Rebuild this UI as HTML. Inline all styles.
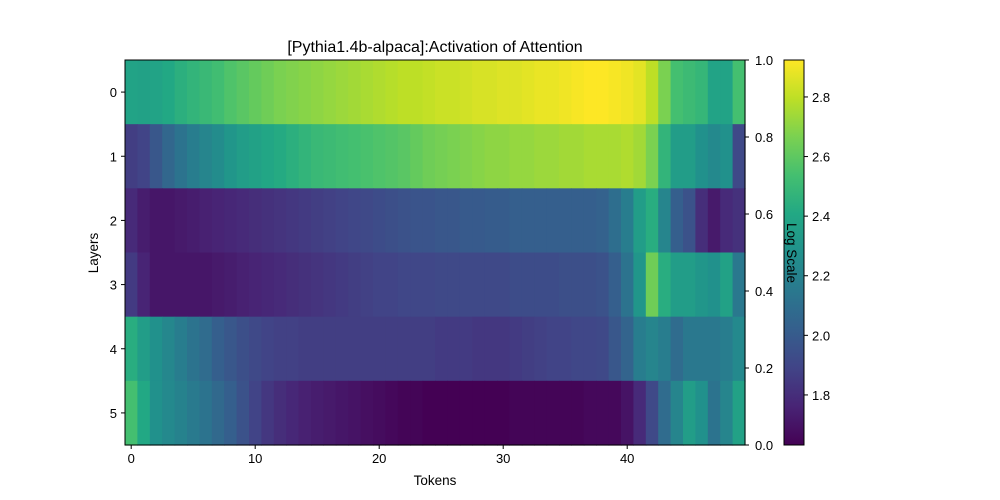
<!DOCTYPE html>
<html><head><meta charset="utf-8">
<style>
html,body{margin:0;padding:0;background:#fff;}
svg{display:block;font-family:"Liberation Sans","DejaVu Sans",sans-serif;}
</style></head>
<body>
<svg id="chart" width="1000" height="500" viewBox="0 0 1000 500" xmlns="http://www.w3.org/2000/svg">
<text x="435" y="52" font-size="16" text-anchor="middle" fill="#000">[Pythia1.4b-alpaca]:Activation of Attention</text>
<g id="cells"></g>
<g id="cbar"></g>
<g id="axes"></g>
<text x="435" y="485" font-size="13.5" text-anchor="middle">Tokens</text>
<text transform="translate(98,253) rotate(-90)" font-size="13.5" text-anchor="middle">Layers</text>
<text transform="translate(787,253) rotate(90)" font-size="13.5" text-anchor="middle">Log Scale</text>
</svg>
<script>
// normalized activation (0 = vmin, 1 = vmax of log scale) per layer across 50 tokens
const layer0 = [0.58,0.57,0.58,0.6,0.63,0.65,0.67,0.69,0.72,0.74,0.76,0.78,0.8,0.81,0.82,0.83,0.84,0.85,0.86,0.87,0.88,0.89,0.9,0.9,0.91,0.92,0.92,0.93,0.94,0.94,0.95,0.95,0.96,0.97,0.97,0.98,0.99,1.0,1.0,0.99,0.98,0.96,0.9,0.8,0.7,0.68,0.66,0.58,0.58,0.7];
const layer1 = [0.18,0.2,0.27,0.33,0.38,0.42,0.45,0.48,0.52,0.55,0.57,0.59,0.61,0.63,0.65,0.67,0.68,0.69,0.7,0.71,0.72,0.73,0.74,0.76,0.78,0.79,0.8,0.81,0.82,0.83,0.83,0.84,0.84,0.85,0.85,0.86,0.86,0.87,0.87,0.87,0.88,0.86,0.8,0.65,0.55,0.55,0.5,0.47,0.5,0.22];
const layer2 = [0.12,0.08,0.06,0.06,0.07,0.08,0.09,0.1,0.11,0.12,0.13,0.14,0.15,0.16,0.17,0.18,0.19,0.2,0.21,0.22,0.23,0.24,0.25,0.26,0.26,0.27,0.27,0.28,0.28,0.29,0.29,0.3,0.3,0.3,0.3,0.3,0.3,0.3,0.31,0.36,0.42,0.55,0.62,0.45,0.3,0.25,0.13,0.07,0.12,0.14];
const layer3 = [0.17,0.1,0.06,0.06,0.06,0.06,0.06,0.07,0.08,0.09,0.1,0.11,0.12,0.13,0.14,0.15,0.16,0.17,0.18,0.19,0.2,0.2,0.21,0.21,0.21,0.22,0.22,0.22,0.22,0.22,0.22,0.23,0.23,0.23,0.23,0.24,0.24,0.24,0.25,0.3,0.38,0.52,0.78,0.62,0.55,0.55,0.52,0.5,0.57,0.4];
const layer4 = [0.62,0.55,0.5,0.46,0.42,0.38,0.35,0.3,0.27,0.24,0.22,0.2,0.19,0.19,0.18,0.18,0.18,0.18,0.18,0.18,0.18,0.18,0.18,0.18,0.18,0.17,0.17,0.17,0.16,0.16,0.16,0.17,0.18,0.19,0.2,0.2,0.21,0.21,0.22,0.27,0.32,0.42,0.45,0.42,0.35,0.4,0.4,0.4,0.42,0.47];
const layer5 = [0.7,0.6,0.5,0.47,0.44,0.41,0.38,0.34,0.3,0.25,0.2,0.16,0.13,0.11,0.09,0.08,0.07,0.06,0.05,0.04,0.03,0.02,0.01,0.01,0.0,0.0,0.0,0.0,0.0,0.0,0.0,0.01,0.01,0.01,0.01,0.01,0.01,0.02,0.02,0.02,0.05,0.12,0.22,0.35,0.45,0.55,0.5,0.38,0.45,0.57];
const layers = [layer0, layer1, layer2, layer3, layer4, layer5];
const layerLabels = ["0","1","2","3","4","5"];
const xTicks = [0,10,20,30,40];
const rightTicks = ["0.0","0.2","0.4","0.6","0.8","1.0"];
const cbarTicks = [1.8,2.0,2.2,2.4,2.6,2.8];
const cbarMin = 1.632, cbarMax = 2.924;

const NS = "http://www.w3.org/2000/svg";
const L = 125, R = 745, T = 60, B = 445;
const nCols = layer0.length, nRows = layers.length;
const cw = (R - L) / nCols, rh = (B - T) / nRows;
const xPos = i => L + (i + 0.5) * cw;
const yPos = r => T + (r + 0.5) * rh;

const vir = ["#440154","#482475","#414487","#355f8d","#2a788e","#21918c","#22a884","#44bf70","#7ad151","#bddf26","#fde725"];
function hex(h){return [1,3,5].map(i=>parseInt(h.substr(i,2),16));}
function viridis(t){
  t = Math.max(0, Math.min(1, t));
  const s = t * 10, i = Math.min(9, Math.floor(s)), f = s - i;
  const a = hex(vir[i]), b = hex(vir[i+1]);
  return "rgb(" + a.map((v,k)=>Math.round(v + (b[k]-v)*f)).join(",") + ")";
}
function mk(tag, attrs, parent){
  const e = document.createElementNS(NS, tag);
  for (const k in attrs) e.setAttribute(k, attrs[k]);
  parent.appendChild(e); return e;
}
const cells = document.getElementById("cells");
layers.forEach((row, r) => {
  row.forEach((v, i) => {
    const c = mk("rect", {x: (xPos(i) - cw/2).toFixed(2), y: (yPos(r) - rh/2).toFixed(2), width: (cw + 0.6).toFixed(2), height: (rh + 0.6).toFixed(2), fill: viridis(v)}, cells);
    
    
  });
});
const axes = document.getElementById("axes");
const frame = mk("rect", {x: L, y: T, width: R - L, height: B - T, fill: "none", stroke: "#000", "stroke-width": 1}, axes);


xTicks.forEach(v => {
  const x = xPos(v);
  mk("line", {x1: x, x2: x, y1: B, y2: B + 4, stroke: "#000"}, axes);
  const t = mk("text", {x: x, y: B + 18, "font-size": 13, "text-anchor": "middle"}, axes);
  t.textContent = v;
  
  
});
layerLabels.forEach((lab, r) => {
  const y = yPos(r);
  mk("line", {x1: L - 4, x2: L, y1: y, y2: y, stroke: "#000"}, axes);
  const t = mk("text", {x: L - 8, y: y + 5, "font-size": 13, "text-anchor": "end"}, axes);
  t.textContent = lab;
  
  
});
rightTicks.forEach((lab, k) => {
  const y = B - k / (rightTicks.length - 1) * (B - T);
  mk("line", {x1: R, x2: R + 4, y1: y, y2: y, stroke: "#000"}, axes);
  const t = mk("text", {x: R + 10, y: y + 5, "font-size": 13}, axes);
  t.textContent = lab;
  
  
});
// colorbar
const cb = document.getElementById("cbar");
const CX = 784, CW = 20;
const defs = mk("defs", {}, cb);
const grad = mk("linearGradient", {id: "vgrad", x1: 0, y1: 1, x2: 0, y2: 0}, defs);
vir.forEach((c, k) => mk("stop", {offset: (k / 10), "stop-color": c}, grad));
const bar = mk("rect", {x: CX, y: T, width: CW, height: B - T, fill: "url(#vgrad)", stroke: "#000", "stroke-width": 1}, cb);


const cbY = v => B - (v - cbarMin) / (cbarMax - cbarMin) * (B - T);
cbarTicks.forEach(v => {
  const y = cbY(v);
  mk("line", {x1: CX + CW, x2: CX + CW + 4, y1: y, y2: y, stroke: "#000"}, cb);
  const t = mk("text", {x: CX + CW + 8, y: y + 5, "font-size": 13}, cb);
  t.textContent = v.toFixed(1);
  
  
});
</script>
</body></html>
